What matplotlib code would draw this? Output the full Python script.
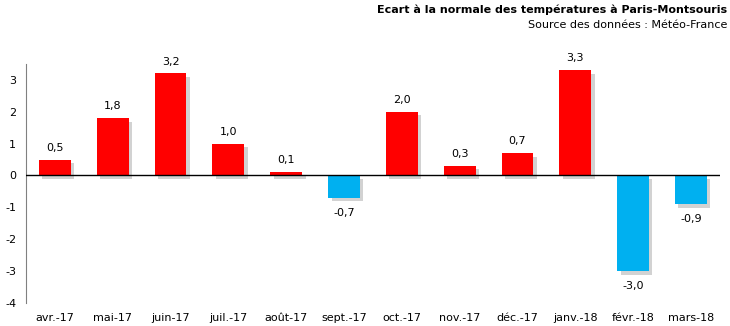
import numpy as np
import matplotlib.pyplot as plt
import matplotlib.patheffects as pe

plt.rcParams["axes.unicode_minus"] = False

months = ["avr.-17", "mai-17", "juin-17", "juil.-17", "août-17", "sept.-17",
          "oct.-17", "nov.-17", "déc.-17", "janv.-18", "févr.-18", "mars-18"]
ecart = [0.5, 1.8, 3.2, 1.0, 0.1, -0.7, 2.0, 0.3, 0.7, 3.3, -3.0, -0.9]

red = "#ff0000"
blue = "#00b0f0"

fig = plt.figure(figsize=(7.3, 3.26), dpi=100)
ax = fig.add_axes([0.0356, 0.0706, 0.9504, 0.7334])

x = np.arange(len(months))
colors = [red if v >= 0 else blue for v in ecart]
bars = ax.bar(x, ecart, width=0.55, color=colors, zorder=2)
for b in bars:
    b.set_path_effects([pe.SimplePatchShadow(offset=(2.5, -2.5), shadow_rgbFace="#7f7f7f", alpha=0.35),
                        pe.Normal()])

for xi, v in zip(x, ecart):
    lab = f"{v:.1f}".replace(".", ",")
    if v >= 0:
        ax.annotate(lab, (xi, v), xytext=(0, 5), textcoords="offset points",
                    ha="center", va="bottom", fontsize=8)
    else:
        ax.annotate(lab, (xi, v), xytext=(0, -7), textcoords="offset points",
                    ha="center", va="top", fontsize=8)

ax.axhline(0, color="black", lw=1, zorder=3)
ax.set_xlim(-0.5, len(months) - 0.5)
ax.set_ylim(-4, 3.5)
ax.set_yticks(range(-4, 4))
ax.set_xticks(x)
ax.set_xticklabels(months)
ax.tick_params(axis="both", length=0, labelsize=8)
ax.tick_params(axis="y", pad=7)
ax.tick_params(axis="x", pad=7)
for s in ["top", "right", "bottom"]:
    ax.spines[s].set_visible(False)
ax.spines["left"].set_color("#808080")

fig.text(0.996, 0.985, "Ecart à la normale des températures à Paris-Montsouris",
         ha="right", va="top", fontsize=8, fontweight="bold")
fig.text(0.996, 0.94, "Source des données : Météo-France",
         ha="right", va="top", fontsize=8)

fig.savefig("out.png", dpi=100)
